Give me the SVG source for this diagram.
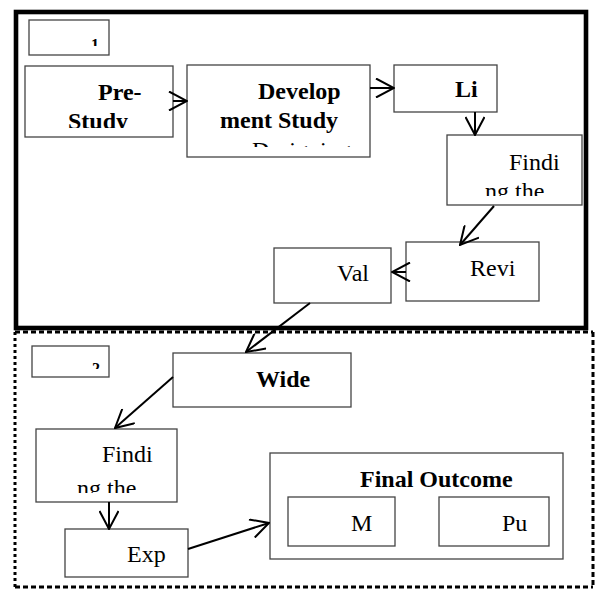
<svg xmlns="http://www.w3.org/2000/svg" width="595" height="589" viewBox="0 0 595 589">
<style>
  .box { fill: #fff; stroke: #444; stroke-width: 1.3; }
  .t { font-family: "Liberation Serif", "Times New Roman", serif; font-size: 24px; fill: #000; }
  .b { font-weight: bold; }
  .lbl { font-family: "Liberation Serif", "Times New Roman", serif; font-size: 16px; font-weight: bold; fill: #000; }
  .conn { fill: none; stroke: #000; stroke-width: 2; marker-end: url(#arr); }
</style>
<defs>
  <marker id="arr" viewBox="0 0 20 20" refX="19" refY="10" markerWidth="20" markerHeight="20" markerUnits="userSpaceOnUse" orient="auto">
    <path d="M1,0.5 L19,10 L1,19.5" fill="none" stroke="#000" stroke-width="2"/>
  </marker>
  <clipPath id="cL1"><rect x="29" y="20" width="80" height="26"/></clipPath>
  <clipPath id="cL2"><rect x="32" y="346" width="77" height="23"/></clipPath>
  <clipPath id="cPre"><rect x="25" y="66" width="148" height="62"/></clipPath>
  <clipPath id="cDev"><rect x="187" y="65" width="183" height="82"/></clipPath>
  <clipPath id="cLi"><rect x="394" y="65" width="103" height="47"/></clipPath>
  <clipPath id="cF1"><rect x="447" y="135" width="135" height="61"/></clipPath>
  <clipPath id="cF2"><rect x="36" y="429" width="141" height="64"/></clipPath>
</defs>
<rect width="595" height="589" fill="#fff"/>

<g id="phase1">
  <rect x="16" y="12" width="570" height="316" fill="none" stroke="#000" stroke-width="4.6"/>
</g>
<g id="phase2">
  <line x1="15" y1="332" x2="593" y2="332" stroke="#000" stroke-width="3" stroke-dasharray="5 3"/>
  <line x1="15" y1="587" x2="593" y2="587" stroke="#000" stroke-width="3" stroke-dasharray="5 3"/>
  <line x1="15" y1="332" x2="15" y2="587" stroke="#000" stroke-width="3" stroke-dasharray="3 3"/>
  <line x1="593" y1="332" x2="593" y2="587" stroke="#000" stroke-width="3" stroke-dasharray="5 3"/>
</g>

<g id="label1">
  <rect class="box" x="29" y="20" width="80" height="35"/>
  <text class="lbl" x="91" y="50" clip-path="url(#cL1)">1</text>
</g>
<g id="label2">
  <rect class="box" x="32" y="346" width="77" height="31"/>
  <text class="lbl" x="92" y="374" clip-path="url(#cL2)">2</text>
</g>

<g id="prestudy">
  <rect class="box" x="25" y="66" width="148" height="71"/>
  <g clip-path="url(#cPre)">
    <text class="t b" x="98" y="100">Pre-</text>
    <text class="t b" x="68" y="129">Study</text>
  </g>
</g>
<g id="development">
  <rect class="box" x="187" y="65" width="183" height="92"/>
  <g clip-path="url(#cDev)">
    <text class="t b" x="258" y="99">Develop</text>
    <text class="t b" x="220" y="128">ment Study</text>
    <text class="t" x="252" y="158">Designing</text>
  </g>
</g>
<g id="li">
  <rect class="box" x="394" y="65" width="103" height="47"/>
  <text class="t b" x="455" y="97" clip-path="url(#cLi)">Li</text>
</g>
<g id="finding1">
  <rect class="box" x="447" y="135" width="135" height="70"/>
  <g clip-path="url(#cF1)">
    <text class="t" x="509" y="170">Findi</text>
    <text class="t" x="485" y="199">ng the</text>
  </g>
</g>
<g id="review">
  <rect class="box" x="406" y="242" width="133" height="59"/>
  <text class="t" x="470" y="276">Revi</text>
</g>
<g id="validation">
  <rect class="box" x="274" y="248" width="117" height="55"/>
  <text class="t" x="337" y="281">Val</text>
</g>
<g id="wide">
  <rect class="box" x="173" y="353" width="178" height="54"/>
  <text class="t b" x="256" y="387">Wide</text>
</g>
<g id="finding2">
  <rect class="box" x="36" y="429" width="141" height="73"/>
  <g clip-path="url(#cF2)">
    <text class="t" x="102" y="462">Findi</text>
    <text class="t" x="77" y="496">ng the</text>
  </g>
</g>
<g id="exp">
  <rect class="box" x="65" y="529" width="123" height="48"/>
  <text class="t" x="127" y="562">Exp</text>
</g>
<g id="final">
  <rect class="box" x="270" y="453" width="293" height="106"/>
  <text class="t b" x="360" y="487">Final Outcome</text>
  <g id="m">
    <rect class="box" x="288" y="497" width="107" height="49"/>
    <text class="t" x="351" y="531">M</text>
  </g>
  <g id="pu">
    <rect class="box" x="439" y="497" width="110" height="49"/>
    <text class="t" x="502" y="531">Pu</text>
  </g>
</g>

<g id="connectors">
  <path class="conn" d="M173,101 L187,101"/>
  <path class="conn" d="M370,88 L394,88"/>
  <path class="conn" d="M475,112 L475,135"/>
  <path class="conn" d="M494,206 L460,245"/>
  <path class="conn" d="M406,272 L392,272"/>
  <path class="conn" d="M310,303 L246,352"/>
  <path class="conn" d="M173,377 L115,428"/>
  <path class="conn" d="M109,502 L109,529"/>
  <path class="conn" d="M188,549 L269,523"/>
</g>
</svg>
